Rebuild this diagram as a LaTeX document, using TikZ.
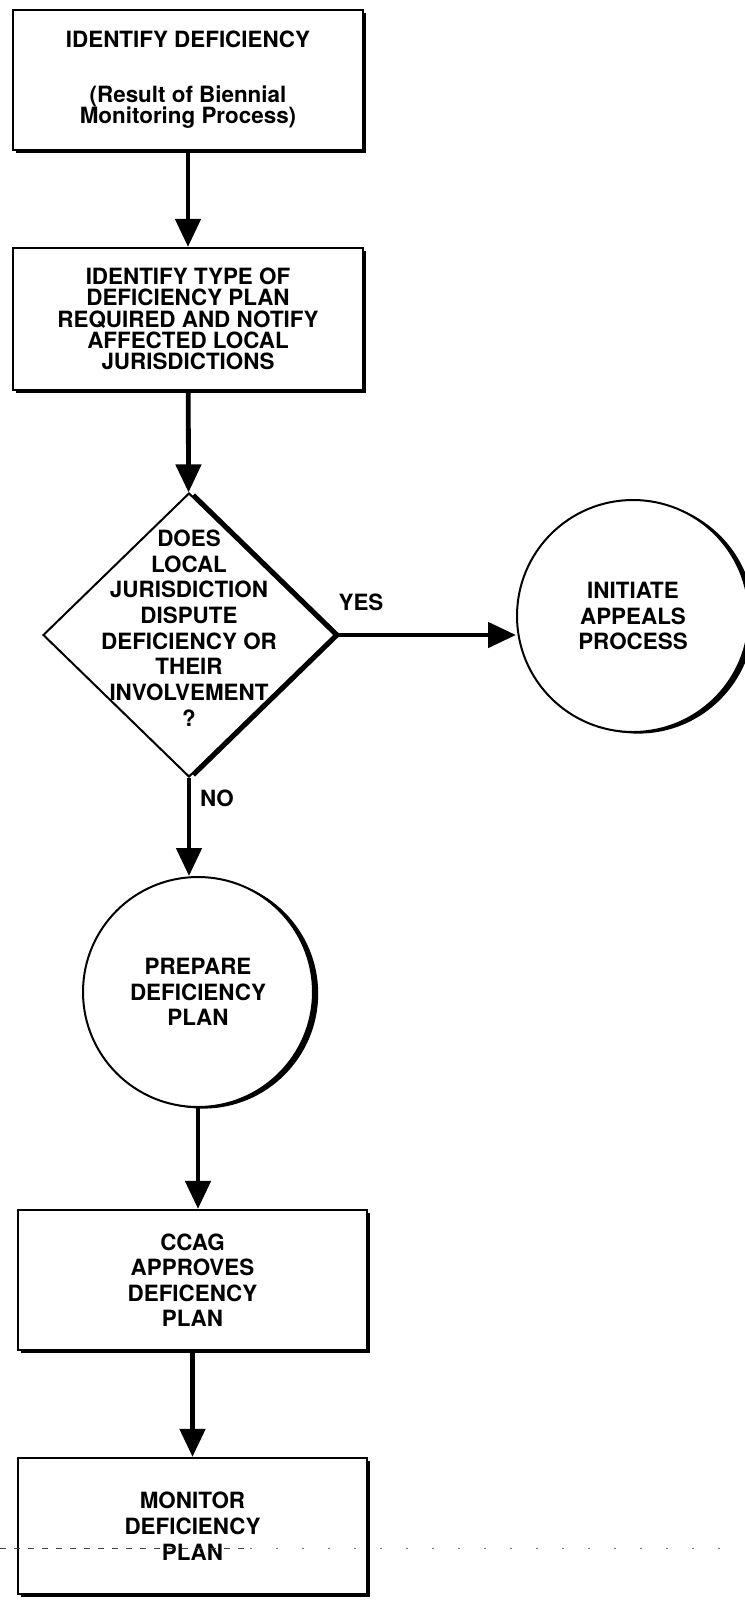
\documentclass[tikz,border=0pt]{standalone}
\usepackage{fontspec}
\setmainfont{TeX Gyre Heros}
\usetikzlibrary{shapes.geometric,positioning,arrows.meta,shadows}
\tikzset {
block/.style={shape=rectangle,draw,line width=1.1pt,fill=white,minimum width=175pt,minimum height=70pt,align=center,font=\bfseries\fontsize{11.2}{12.7}\selectfont,drop shadow={shadow xshift=1.4pt,shadow yshift=-1.6pt,fill=black,opacity=1}},
decision/.style={shape=diamond,draw,line width=1pt,fill=white,minimum width=146pt,minimum height=142pt,inner sep=0pt,drop shadow={shadow xshift=3pt,shadow yshift=0pt,fill=black,opacity=1}},
bubble/.style={shape=circle,draw,line width=1pt,fill=white,minimum size=115pt,align=center,font=\bfseries\fontsize{11.2}{12.7}\selectfont,drop shadow={shadow xshift=2.6pt,shadow yshift=-0.8pt,fill=black,opacity=1}},
answer/.style={align=center,font=\bfseries\fontsize{11.2}{12.85}\selectfont},
flow/.style={->,line width=2.4pt}
}
\begin{document}
\begin{tikzpicture}
[x=0.5pt,y=-0.5pt,>={Triangle[length=14pt,width=12.5pt]}]
\useasboundingbox (0,0) rectangle (744,1600);
\node[block,font=\bfseries\fontsize{11.2}{10.6}\selectfont] (deficiency) at (188,80) {IDENTIFY DEFICIENCY\\[16.9pt](Result of Biennial\\Monitoring Process)};
\node[block,minimum height=71pt,font=\bfseries\fontsize{11.2}{10.6}\selectfont] (type) at (188,319) {IDENTIFY TYPE OF\\DEFICIENCY PLAN\\REQUIRED AND NOTIFY\\AFFECTED LOCAL\\JURISDICTIONS};
\node[decision] (dispute) at (189,635) {};
\node[answer] (dispute text) at (189,628) {DOES\\LOCAL\\JURISDICTION\\DISPUTE\\DEFICIENCY OR\\THEIR\\INVOLVEMENT\\?};
\node[bubble,minimum size=116pt] (appeals) at (633,616) {INITIATE\\APPEALS\\PROCESS};
\node[bubble] (prepare) at (198,992) {PREPARE\\DEFICIENCY\\PLAN};
\node[block,minimum width=174.5pt] (approve) at (192.5,1280) {CCAG\\APPROVES\\DEFICENCY\\PLAN};
\node[block,minimum width=174.5pt,minimum height=68pt,font=\bfseries\fontsize{11.2}{13}\selectfont] (monitor) at (192.5,1526) {MONITOR\\DEFICIENCY\\PLAN};
\node[answer] (yes) at (361,602) {YES};
\node[answer] (no) at (217,798) {NO};

\draw[flow] (deficiency) -- (type);
\draw[flow] (type) -- (dispute);
\draw[flow] (dispute.east) -- (dispute.east -| appeals.west);
\draw[flow] (dispute.south) -- (dispute.south |- prepare.north);
\draw[flow] (prepare.south) -- (prepare.south |- approve.north);
\draw[flow] (approve) -- (monitor);
\draw[dash pattern=on 3pt off 4pt,line width=0.5pt,black!75] (0,1548) -- (250,1548);
\draw[dash pattern=on 1pt off 12pt,line width=0.5pt,black!50] (250,1548) -- (744,1548);
\end{tikzpicture}
\end{document}
